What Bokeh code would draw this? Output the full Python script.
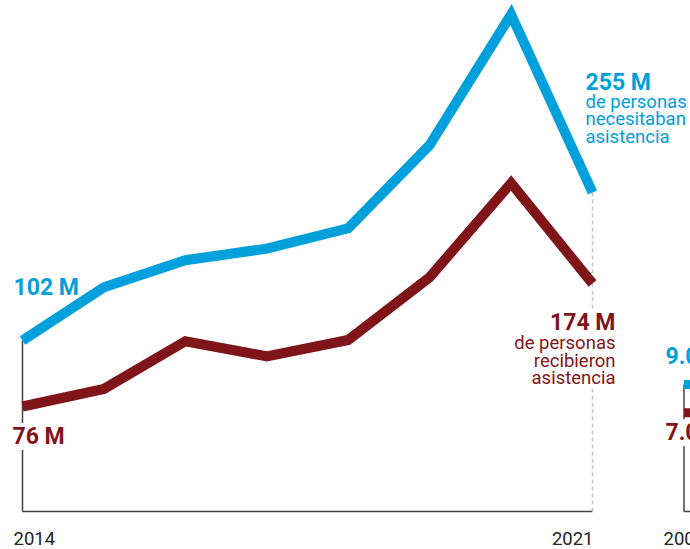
from bokeh.plotting import figure
from bokeh.models import Range1d
from bokeh.core.properties import value
from bokeh.embed import file_html
from bokeh.resources import INLINE

# ---- data ----
years = [2014, 2015, 2016, 2017, 2018, 2019, 2020, 2021]
needed = [102, 157, 185, 197, 218, 304, 439, 255]      # personas que necesitaban asistencia (M)
received = [76, 90, 128, 116, 129, 179, 254, 174]      # personas que recibieron asistencia (M)
year_labels = ["2014", "2021"]

small_years = [2007, 2008]
small_a = [9.0, 9.2]
small_b = [7.0, 7.1]
small_year_labels = ["2007"]

needed_sub = ["de personas", "necesitaban", "asistencia"]
received_sub = ["de personas", "recibieron", "asistencia"]

BLUE = "#00a0dc"
RED = "#7f1519"
AXIS = "#444444"
FONT = value("Roboto")

W, H = 690, 549
px_per_year = 570 / 7.0
x0 = years[0] - 22 / px_per_year
x_small0 = small_years[0] - 683.5 / px_per_year

base = Range1d(-38 / 14.1, 511 / 14.1)
k_b = 148 / 153
need_r = Range1d(needed[0] - 209 / k_b, needed[0] + 340 / k_b)
k_r = 123 / 98
recv_r = Range1d(received[0] - 143 / k_r, received[0] + 406 / k_r)


def base_in(r):
    return r.start + (0 - base.start) / (base.end - base.start) * (r.end - r.start)


p = figure(width=W, height=H, output_backend="svg", toolbar_location=None,
           x_range=Range1d(x0, x0 + W / px_per_year), y_range=base,
           x_axis_location=None, y_axis_location=None, min_border=0,
           outline_line_color=None, background_fill_color="white",
           border_fill_color="white")
p.grid.visible = False
p.extra_y_ranges = {"need": need_r, "recv": recv_r}
p.extra_x_ranges = {"small": Range1d(x_small0, x_small0 + W / px_per_year)}

# guides
p.segment(x0=[years[0]], y0=[0], x1=[years[-1]], y1=[0], line_color=AXIS, line_width=1.5)
p.segment(x0=[years[-1]], y0=[needed[-1]], x1=[years[-1]], y1=[base_in(need_r)],
          y_range_name="need", line_color="#c4c4c4", line_width=1.5, line_dash="4 3")
p.segment(x0=[years[0]], y0=[needed[0]], x1=[years[0]], y1=[base_in(need_r)],
          y_range_name="need", line_color=AXIS, line_width=1.5)
p.segment(x0=[small_years[0]], y0=[0], x1=[small_years[-1]], y1=[0],
          x_range_name="small", line_color=AXIS, line_width=1.5)
p.segment(x0=[small_years[0]], y0=[small_a[0]], x1=[small_years[0]], y1=[0],
          x_range_name="small", line_color=AXIS, line_width=1.5)

# lines
p.line(years, needed, y_range_name="need", line_color=BLUE, line_width=10,
       line_join="miter", line_cap="butt")
p.line(years, received, y_range_name="recv", line_color=RED, line_width=10,
       line_join="miter", line_cap="butt")
p.line(small_years, small_a, x_range_name="small", line_color=BLUE, line_width=9,
       line_join="miter", line_cap="butt")
p.line(small_years, small_b, x_range_name="small", line_color=RED, line_width=9,
       line_join="miter", line_cap="butt")

bold = dict(text_font=FONT, text_font_size="23px", text_font_style="bold",
            text_baseline="alphabetic")
reg = dict(text_font=FONT, text_font_size="18.5px", text_baseline="alphabetic")

RED_SUB_OFF = [59, 77, 94]
BLUE_SUB_OFF = [-91, -74, -56]

# white knock-out backgrounds (drawn first so descenders stay visible)
p.text(x=[years[0]], y=[received[0]], text=[f"{received[0]} M"], y_range_name="recv",
       x_offset=-10, y_offset=30, text_color="white", text_align="left",
       background_fill_color="white", **bold)
p.text(x=[years[-1]], y=[received[-1]], text=[f"{received[-1]} M"], y_range_name="recv",
       x_offset=23, y_offset=39, text_color="white", text_align="right",
       background_fill_color="white", **bold)
p.text(x=[years[-1]] * 3, y=[received[-1]] * 3, text=received_sub, y_range_name="recv",
       x_offset=23, y_offset=RED_SUB_OFF, text_color="white", text_align="right",
       background_fill_color="white", **reg)
p.text(x=[small_years[0]], y=[small_b[0]], text=[f"{small_b[0]:.1f} M"], x_range_name="small",
       x_offset=-18.5, y_offset=20, text_color="white", text_align="left",
       background_fill_color="white", **bold)

# value labels
p.text(x=[years[0]], y=[needed[0]], text=[f"{needed[0]} M"], y_range_name="need",
       x_offset=-9, y_offset=-53, text_color=BLUE, text_align="left", **bold)
p.text(x=[years[0]], y=[received[0]], text=[f"{received[0]} M"], y_range_name="recv",
       x_offset=-10, y_offset=30, text_color=RED, text_align="left", **bold)
p.text(x=[years[-1]], y=[needed[-1]], text=[f"{needed[-1]} M"], y_range_name="need",
       x_offset=-7, y_offset=-110, text_color=BLUE, text_align="left", **bold)
p.text(x=[years[-1]] * 3, y=[needed[-1]] * 3, text=needed_sub, y_range_name="need",
       x_offset=-7, y_offset=BLUE_SUB_OFF, text_color=BLUE, text_align="left", **reg)
p.text(x=[years[-1]], y=[received[-1]], text=[f"{received[-1]} M"], y_range_name="recv",
       x_offset=23, y_offset=39, text_color=RED, text_align="right", **bold)
p.text(x=[years[-1]] * 3, y=[received[-1]] * 3, text=received_sub, y_range_name="recv",
       x_offset=23, y_offset=RED_SUB_OFF, text_color=RED, text_align="right", **reg)

p.text(x=[small_years[0]], y=[small_a[0]], text=[f"{small_a[0]:.1f} M"], x_range_name="small",
       x_offset=-18.5, y_offset=-28, text_color=BLUE, text_align="left", **bold)
p.text(x=[small_years[0]], y=[small_b[0]], text=[f"{small_b[0]:.1f} M"], x_range_name="small",
       x_offset=-18.5, y_offset=20, text_color=RED, text_align="left", **bold)

# year labels
p.text(x=[years[0]], y=[0], text=[year_labels[0]], x_offset=-9, y_offset=27,
       text_color="#222222", text_align="left", **reg)
p.text(x=[years[-1]], y=[0], text=[year_labels[1]], x_offset=1, y_offset=27,
       text_color="#222222", text_align="right", **reg)
p.text(x=[small_years[0]], y=[0], text=small_year_labels, x_range_name="small",
       x_offset=-20.5, y_offset=27, text_color="#222222", text_align="left", **reg)

open("out.html", "w").write(file_html(p, INLINE))
